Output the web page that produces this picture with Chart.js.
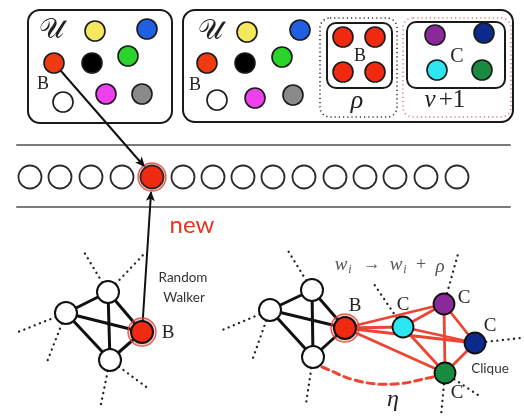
<!DOCTYPE html>
<html><head><meta charset="utf-8">
<script src="https://cdn.jsdelivr.net/npm/chart.js@4/dist/chart.umd.min.js"></script>
<style>html,body{margin:0;padding:0;background:#fff}canvas{display:block}</style>
</head><body>
<canvas id="c" width="524" height="417"></canvas>
<script>
// ---------- data ----------
const poolColors = ['#f4e85c','#1f5fe0','#f03a12','#000000','#2ad42a','#ffffff','#ee40ee','#8a8a8a'];
const leftPoolNodes  = [[95,31],[147,29],[54,63],[92,63],[128,56],[63,102],[106,94],[142,94]];
const rightPoolNodes = [[247,32],[300,30],[207,63],[245,63],[282,57],[217,100],[255,98],[293,95]];
const rhoNodes = [[343,37],[375,37],[343,72],[375,72]];
const cliqueColors = ['#8a2a9a','#0c2a8c','#2ee6f2','#1a8a40'];
const cliqueBoxNodes = [[435,35],[484,33],[437,70],[482,70]];
const stripX = [30,60,91,122,152,183,213,243,273,304,335,365,395,426,457];
const stripY = 177;
const newIndex = 4;
const walkerNodes = [[108,292],[66,313],[142,332],[110,360]];
const graphEdges = [[0,1],[0,2],[0,3],[1,2],[1,3],[2,3]];
const rightNodes = [[312,290],[270,310],[345,328],[313,357]];
const cliqueNodes = [[444,304],[475,343],[403,327],[445,373]]; // purple, navy, cyan, green
const cliqueNodeColors = ['#8a2a9a','#0c2a8c','#2ee6f2','#1a8a40'];
const dottedLeft = [[[108,292],[84,252]],[[108,292],[144,254]],[[66,313],[18,332]],[[66,313],[47,362]],[[110,360],[101,404]],[[110,360],[149,389]]];
const dottedRight = [[[312,290],[287,249]],[[270,310],[220,331]],[[270,310],[253,358]],[[313,357],[306,404]],[[403,327],[374,284]],[[444,304],[458,254]],[[475,343],[521,338]],[[445,373],[441,416]],[[445,373],[481,397]]];
const etaCurve = [[322,367],[358,381],[395,384],[433,377]];

const RED = '#f02a10', EDGE_RED = '#ee4433';

// ---------- datasets ----------
const ds = [];
function line(pts, color, width, dash, order, extra) {
  ds.push(Object.assign({type:'scatter', data: pts.map(p=>({x:p[0],y:p[1]})), showLine:true,
    borderColor:color, borderWidth:width, borderDash:dash||[], borderCapStyle:'round',
    pointRadius:0, fill:false, order:order, tension:0}, extra||{}));
}
function nodes(pts, colors, r, order, bw, bc) {
  ds.push({type:'scatter', data: pts.map(p=>({x:p[0],y:p[1]})), pointRadius:r, pointHoverRadius:r,
    pointBackgroundColor:colors, pointBorderColor:bc||'#1a1a1a', pointBorderWidth:bw||1.6, order:order});
}
line([[17,145],[510,145]], '#7a7a7a', 2, null, 9);
line([[17,207],[510,207]], '#7a7a7a', 2, null, 9);
line([[54,63],[143,165]], '#111', 2, null, 8);
line([[142,332],[151,193]], '#111', 2, null, 8);
dottedLeft.concat(dottedRight).forEach(s => line(s, '#222', 2.3, [0.1,5.5], 9));
graphEdges.forEach(e => line([walkerNodes[e[0]], walkerNodes[e[1]]], '#111', 3, null, 7));
graphEdges.forEach(e => line([rightNodes[e[0]], rightNodes[e[1]]], '#111', 3, null, 7));
const Bnode = rightNodes[2];
cliqueNodes.forEach(c => line([Bnode, c], EDGE_RED, 2.8, null, 6));
for (let i=0;i<cliqueNodes.length;i++) for (let j=i+1;j<cliqueNodes.length;j++)
  line([cliqueNodes[i], cliqueNodes[j]], EDGE_RED, 2.8, null, 6);
line(etaCurve, EDGE_RED, 3, [7,5], 6, {tension:0.4});
nodes([[stripX[newIndex],stripY], walkerNodes[2], rightNodes[2]], 'rgba(240,90,70,0.3)', 14, 3, 1.4, 'rgba(225,60,45,0.8)');
nodes(leftPoolNodes, poolColors, 10, 1);
nodes(rightPoolNodes, poolColors, 10, 1);
nodes(rhoNodes, RED, 10, 1);
nodes(cliqueBoxNodes, cliqueColors, 10, 1);
nodes(stripX.map(x=>[x,stripY]), stripX.map((x,i)=> i===newIndex? RED : '#ffffff'), 11.5, 1, 1.8, '#2a2a2a');
nodes(walkerNodes, walkerNodes.map((p,i)=> i===2? RED:'#ffffff'), 11, 1, 2, '#111');
nodes(rightNodes, rightNodes.map((p,i)=> i===2? RED:'#ffffff'), 11, 1, 2, '#111');
nodes(cliqueNodes, cliqueNodeColors, 10.5, 1, 1.8, '#111');

// ---------- boxes & text ----------
const boxes = [
  {x0:28,y0:10,x1:172,y1:123,r:12,c:'#1a1a1a',w:2,d:[]},
  {x0:183,y0:10,x1:513,y1:122,r:12,c:'#1a1a1a',w:2,d:[]},
  {x0:320,y0:18,x1:397,y1:117,r:10,c:'#333',w:1.6,d:[1.2,3]},
  {x0:403,y0:18,x1:511,y1:117,r:10,c:'#e07a7a',w:1.6,d:[1.2,3]},
  {x0:327,y0:23,x1:392,y1:88,r:9,c:'#1a1a1a',w:2,d:[]},
  {x0:407,y0:22,x1:505,y1:88,r:9,c:'#1a1a1a',w:2,d:[]}
];
const SERIF = '"Liberation Serif","DejaVu Serif",serif';
const SANS = 'Lato,"Open Sans",sans-serif';
const texts = [
  {t:'\u{1D4B0}', x:51, y:31, f:'28px '+SERIF, c:'#222'},
  {t:'\u{1D4B0}', x:210, y:32, f:'28px '+SERIF, c:'#222'},
  {t:'B', x:43, y:84, f:'18px '+SERIF, c:'#222'},
  {t:'B', x:195, y:85, f:'18px '+SERIF, c:'#222'},
  {t:'B', x:360, y:56, f:'18px '+SERIF, c:'#222'},
  {t:'C', x:457, y:57, f:'20px '+SERIF, c:'#222'},
  {t:'\u03C1', x:357, y:101, f:'italic 26px '+SERIF, c:'#222'},
  {t:'\u03BD', x:430, y:100, f:'italic 25px '+SERIF, c:'#222'},
  {t:'+1', x:452, y:100, f:'25px '+SERIF, c:'#222'},
  {t:'new', x:192, y:225, f:'24px '+SANS, c:'#e8321e'},
  {t:'Random', x:183, y:278, f:'13.5px '+SANS, c:'#333'},
  {t:'Walker', x:184, y:298, f:'13.5px '+SANS, c:'#333'},
  {t:'B', x:168, y:333, f:'19px '+SERIF, c:'#222'},
  {t:'B', x:355, y:306, f:'19px '+SERIF, c:'#222'},
  {t:'C', x:403, y:305, f:'19px '+SERIF, c:'#222'},
  {t:'C', x:464, y:298, f:'19px '+SERIF, c:'#222'},
  {t:'C', x:490, y:326, f:'19px '+SERIF, c:'#222'},
  {t:'C', x:457, y:393, f:'19px '+SERIF, c:'#222'},
  {t:'Clique', x:490, y:369, f:'13.5px '+SANS, c:'#333'},
  {t:'\u03B7', x:393, y:400, f:'italic 24px '+SERIF, c:'#222'}
];
const formula = [
  {t:'w', x:341, y:265, f:'italic 19px '+SERIF},
  {t:'i', x:350, y:270, f:'italic 12px '+SERIF},
  {t:'\u2192', x:372, y:265, f:'17px '+SERIF},
  {t:'w', x:396, y:265, f:'italic 19px '+SERIF},
  {t:'i', x:405, y:270, f:'italic 12px '+SERIF},
  {t:'+', x:421, y:265, f:'18px '+SERIF},
  {t:'\u03C1', x:440, y:267, f:'italic 19px '+SERIF}
];
const arrowHeads = [
  {from:[54,63], to:[145,167]},
  {from:[142,332], to:[151,191]}
];

function rr(ctx,x0,y0,x1,y1,r){
  ctx.beginPath();
  ctx.moveTo(x0+r,y0); ctx.lineTo(x1-r,y0); ctx.arcTo(x1,y0,x1,y0+r,r);
  ctx.lineTo(x1,y1-r); ctx.arcTo(x1,y1,x1-r,y1,r); ctx.lineTo(x0+r,y1);
  ctx.arcTo(x0,y1,x0,y1-r,r); ctx.lineTo(x0,y0+r); ctx.arcTo(x0,y0,x0+r,y0,r); ctx.closePath();
}
const diagramPlugin = {
  id:'diagram',
  beforeDatasetsDraw(chart){
    const {ctx, scales:{x,y}} = chart;
    ctx.save();
    boxes.forEach(b=>{
      rr(ctx, x.getPixelForValue(b.x0), y.getPixelForValue(b.y0), x.getPixelForValue(b.x1), y.getPixelForValue(b.y1), b.r);
      ctx.setLineDash(b.d); ctx.lineWidth=b.w; ctx.strokeStyle=b.c; ctx.stroke();
    });
    ctx.restore();
  },
  afterDatasetsDraw(chart){
    const {ctx, scales:{x,y}} = chart;
    ctx.save();
    arrowHeads.forEach(a=>{
      const fx=x.getPixelForValue(a.from[0]), fy=y.getPixelForValue(a.from[1]);
      const tx=x.getPixelForValue(a.to[0]), ty=y.getPixelForValue(a.to[1]);
      const ang=Math.atan2(ty-fy,tx-fx), L=11, W=0.42;
      ctx.beginPath(); ctx.moveTo(tx,ty);
      ctx.lineTo(tx-L*Math.cos(ang-W), ty-L*Math.sin(ang-W));
      ctx.lineTo(tx-L*0.7*Math.cos(ang), ty-L*0.7*Math.sin(ang));
      ctx.lineTo(tx-L*Math.cos(ang+W), ty-L*Math.sin(ang+W));
      ctx.closePath(); ctx.fillStyle='#111'; ctx.fill();
    });
    ctx.textAlign='center'; ctx.textBaseline='middle';
    texts.forEach(t=>{ ctx.font=t.f; ctx.fillStyle=t.c; ctx.fillText(t.t, x.getPixelForValue(t.x), y.getPixelForValue(t.y)); });
    formula.forEach(t=>{ ctx.font=t.f; ctx.fillStyle='#555'; ctx.fillText(t.t, x.getPixelForValue(t.x), y.getPixelForValue(t.y)); });
    ctx.restore();
  }
};

new Chart(document.getElementById('c'), {
  type:'scatter',
  data:{datasets:ds},
  options:{
    responsive:false, animation:false, events:[],
    layout:{padding:0, autoPadding:false},
    plugins:{legend:{display:false}, tooltip:{enabled:false}},
    scales:{
      x:{type:'linear', min:0, max:524, display:false},
      y:{type:'linear', min:0, max:417, reverse:true, display:false}
    }
  },
  plugins:[diagramPlugin]
});
</script>
</body></html>
